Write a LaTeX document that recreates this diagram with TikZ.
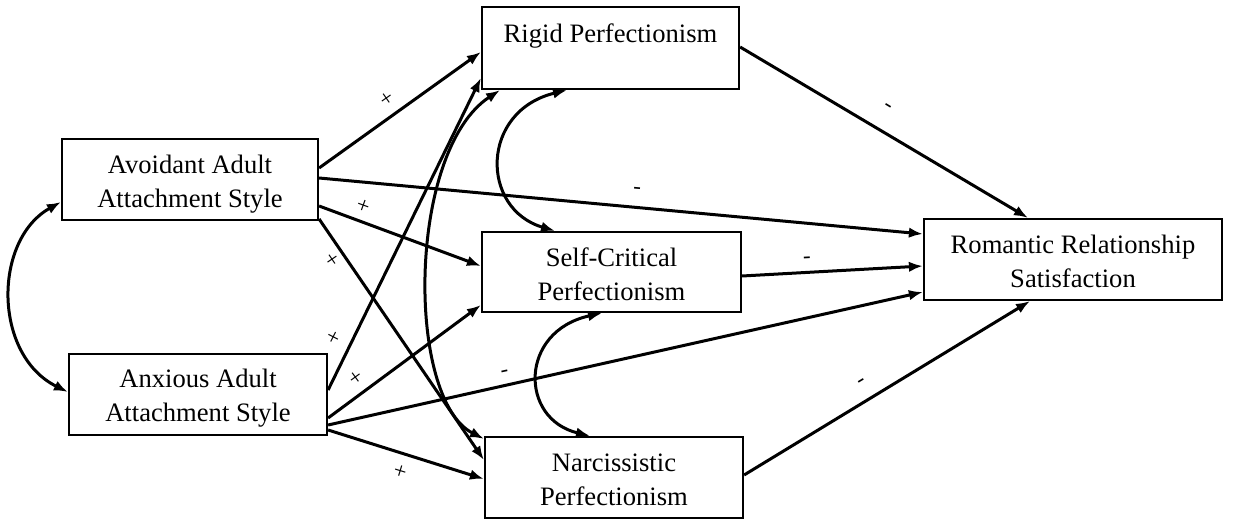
\documentclass[tikz,border=0pt]{standalone}
\usepackage{fontspec}
\setmainfont{Liberation Serif}
\usetikzlibrary{arrows.meta}
\begin{document}
\begin{tikzpicture}[x=1pt,y=-1pt,
  box/.style={draw, line width=2.2pt, inner sep=0pt},
  txt/.style={inner sep=0pt, align=center, font=\fontsize{26.6}{34}\selectfont},
  conn/.style={line width=3pt, -{Latex[length=14pt,width=10.5pt]}},
  bi/.style={line width=3pt, {Latex[length=14pt,width=10.5pt]}-{Latex[length=14pt,width=10.5pt]}},
  sign/.style={inner sep=0pt, font=\fontsize{23}{23}\selectfont}]
\useasboundingbox (0,0) rectangle (1236,521);

% boxes
\node[box, minimum width=256pt, minimum height=81pt] (avoid) at (190,179.5) {};
\node[box, minimum width=258pt, minimum height=81pt] (anx) at (198,394.5) {};
\node[box, minimum width=257pt, minimum height=82pt] (rigid) at (610.5,48) {};
\node[box, minimum width=259pt, minimum height=80pt] (selfc) at (611.5,272) {};
\node[box, minimum width=258pt, minimum height=81pt] (narc) at (614,477.5) {};
\node[box, minimum width=298pt, minimum height=81pt] (rom) at (1073,259.5) {};

% texts
\node[txt] (avoidt) at (190,184) {Avoidant Adult\\Attachment Style};
\node[txt] (anxt) at (198,398.5) {Anxious Adult\\Attachment Style};
\node[txt] (rigidt) at (610.5,36) {Rigid Perfectionism};
\node[txt] (selfct) at (611.5,274.5) {Self-Critical\\Perfectionism};
\node[txt] (narct) at (614,479.5) {Narcissistic\\Perfectionism};
\node[txt] (romt) at (1073,261.5) {Romantic Relationship\\Satisfaction};

% directed paths
\draw[conn] ([yshift=11.5pt]avoid.east) -- ([yshift=-4pt]rigid.west);
\draw[conn] ([yshift=1.5pt]avoid.east) -- ([yshift=25.5pt]rom.west);
\draw[conn] ([yshift=-26.5pt]avoid.east) -- ([yshift=6pt]selfc.west);
\draw[conn] ([yshift=-39.5pt]avoid.east) -- ([yshift=17.5pt]narc.west);
\draw[conn] ([yshift=4.5pt]anx.east) -- ([yshift=-30pt]rigid.west);
\draw[conn] ([yshift=-23.5pt]anx.east) -- ([yshift=-33pt]selfc.west);
\draw[conn] ([yshift=-30.5pt]anx.east) -- ([yshift=-32.5pt]rom.west);
\draw[conn] ([yshift=-35.5pt]anx.east) -- ([yshift=-1.5pt]narc.west);
\draw[conn] ([yshift=1pt]rigid.east) -- ([xshift=-45pt]rom.north);
\draw[conn] ([yshift=-4pt]selfc.east) -- ([yshift=-6.5pt]rom.west);
\draw[conn] ([yshift=2.5pt]narc.east) -- ([xshift=-43pt]rom.south);

% correlations
\draw[bi] ([yshift=-22.5pt]avoid.west) .. controls +(-68,38) and +(-75,-37) .. ([yshift=2.5pt]anx.west);
\draw[bi] ([xshift=-43.5pt]rigid.south) .. controls +(-87,21) and +(-75,-22) .. ([xshift=-56.5pt]selfc.north);
\draw[bi] ([xshift=-9.5pt]selfc.south) .. controls +(-83,18) and +(-71,-17) .. ([xshift=-24pt]narc.north);
\draw[bi] ([xshift=-110.5pt]rigid.south) .. controls +(-93,61) and +(-78,-40) .. ([yshift=-3pt]narc.north west);

% signs
\node[sign, rotate=35] (s1) at (387,99) {+};
\node[sign, rotate=-5] (s2) at (637,191) {-};
\node[sign, rotate=-20] (s3) at (363,207) {+};
\node[sign, rotate=-56] (s4) at (332,260) {+};
\node[sign, rotate=63] (s5) at (335,338) {+};
\node[sign, rotate=36] (s6) at (356,378) {+};
\node[sign, rotate=12] (s7) at (505,374) {-};
\node[sign, rotate=-17] (s8) at (400,472) {+};
\node[sign, rotate=-31] (s9) at (887,108) {-};
\node[sign, rotate=3] (s10) at (807,260) {-};
\node[sign, rotate=31] (s11) at (862,383) {-};
\end{tikzpicture}
\end{document}
